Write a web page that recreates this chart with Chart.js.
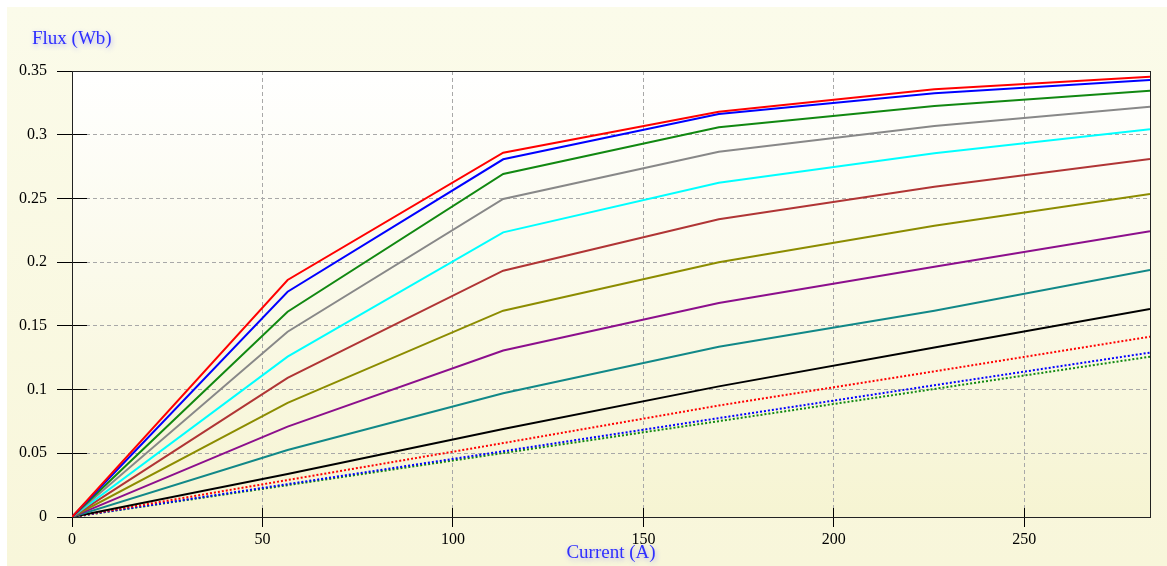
<!DOCTYPE html>
<html>
<head>
<meta charset="utf-8">
<script src="https://cdn.jsdelivr.net/npm/chart.js@4/dist/chart.umd.min.js"></script>
<style>
  html, body { margin: 0; padding: 0; background: #ffffff; }
  canvas { display: block; }
</style>
</head>
<body>
<canvas id="chart" width="1167" height="566"></canvas>
<script>
// Magnetising current (A) at which each flux curve is sampled
const current = [0, 56.6, 113.2, 169.8, 226.4, 283];

// Flux linkage curves (Wb), solid family
const fluxRed    = [0, 0.186, 0.2859, 0.318, 0.3356, 0.3455];
const fluxBlue   = [0, 0.1768, 0.2807, 0.3163, 0.3325, 0.3429];
const fluxGreen  = [0, 0.1611, 0.2692, 0.3058, 0.3225, 0.3345];
const fluxGray   = [0, 0.1454, 0.2496, 0.2867, 0.3068, 0.322];
const fluxCyan   = [0, 0.1258, 0.2234, 0.2623, 0.2854, 0.3042];
const fluxBrown  = [0, 0.1091, 0.1933, 0.2336, 0.2592, 0.2809];
const fluxOlive  = [0, 0.0895, 0.1619, 0.1999, 0.2286, 0.2535];
const fluxPurple = [0, 0.0709, 0.1307, 0.168, 0.1964, 0.2242];
const fluxTeal   = [0, 0.0526, 0.0971, 0.1336, 0.1619, 0.1938];
const fluxBlack  = [0, 0.0337, 0.069, 0.1025, 0.133, 0.1632];

// Flux linkage curves (Wb), dotted family
const fluxRedDot   = [0, 0.029, 0.058, 0.0875, 0.1143, 0.1415];
const fluxBlueDot  = [0, 0.0258, 0.0516, 0.0776, 0.1034, 0.129];
const fluxGreenDot = [0, 0.025, 0.0502, 0.0752, 0.1005, 0.1258];

// Axis tick values
const xTicks = [0, 50, 100, 150, 200, 250];
const yTicks = [0, 0.05, 0.1, 0.15, 0.2, 0.25, 0.3, 0.35];

const xTitle = 'Current (A)';
const yTitle = 'Flux (Wb)';

const solidSeries = [
  ['Red', fluxRed, '#ff0000'],
  ['Blue', fluxBlue, '#0000ff'],
  ['Green', fluxGreen, '#118811'],
  ['Gray', fluxGray, '#888888'],
  ['Cyan', fluxCyan, '#00ffff'],
  ['Brown', fluxBrown, '#b03535'],
  ['Olive', fluxOlive, '#8c8c00'],
  ['Purple', fluxPurple, '#8c0f8c'],
  ['Teal', fluxTeal, '#118888'],
  ['Black', fluxBlack, '#000000']
];
const dottedSeries = [
  ['Red dotted', fluxRedDot, '#ff0000'],
  ['Blue dotted', fluxBlueDot, '#0000ff'],
  ['Green dotted', fluxGreenDot, '#118811']
];

function toPoints(values) {
  return values.map((v, i) => ({ x: current[i], y: v }));
}

const datasets = [
  ...solidSeries.map(([label, values, color]) => ({
    label, data: toPoints(values), borderColor: color, borderWidth: 2,
    pointRadius: 0, tension: 0, fill: false
  })),
  ...dottedSeries.map(([label, values, color]) => ({
    label, data: toPoints(values), borderColor: color, borderWidth: 2,
    borderDash: [2, 2], pointRadius: 0, tension: 0, fill: false
  }))
];

// Same half-pixel snapping that Chart.js uses for 1px grid lines
const snap = p => Math.round(p - 0.5) + 0.5;

// Panel and plot-area backgrounds, frame and inner tick marks
const decorations = {
  id: 'decorations',
  beforeDraw(chart) {
    const { ctx, chartArea: a, width, height } = chart;
    ctx.save();
    ctx.fillStyle = '#ffffff';
    ctx.fillRect(0, 0, width, height);
    const pg = ctx.createLinearGradient(0, 7, 0, height);
    pg.addColorStop(0, '#fbfbea');
    pg.addColorStop(1, '#f8f6da');
    ctx.fillStyle = pg;
    ctx.fillRect(7, 7, width - 7, height - 7);
    const ag = ctx.createLinearGradient(0, a.top, 0, a.bottom);
    ag.addColorStop(0, '#ffffff');
    ag.addColorStop(1, '#f6f4d2');
    ctx.fillStyle = ag;
    ctx.fillRect(a.left, a.top, a.right - a.left, a.bottom - a.top);
    ctx.restore();
  },
  beforeDatasetsDraw(chart) {
    const { ctx, chartArea: a, scales } = chart;
    ctx.save();
    ctx.strokeStyle = '#000000';
    ctx.lineWidth = 1;
    ctx.beginPath();
    yTicks.forEach(v => {
      const y = snap(scales.y.getPixelForValue(v));
      ctx.moveTo(a.left, y); ctx.lineTo(a.left + 15, y);
    });
    xTicks.forEach(v => {
      const x = snap(scales.x.getPixelForValue(v));
      ctx.moveTo(x, a.bottom); ctx.lineTo(x, a.bottom - 9);
    });
    ctx.stroke();
    ctx.strokeStyle = '#222222';
    const l = snap(a.left), t = snap(a.top), r = snap(a.right), b = snap(a.bottom);
    ctx.strokeRect(l, t, r - l, b - t);
    ctx.restore();
  },
  afterDraw(chart) {
    const { ctx } = chart;
    ctx.save();
    ctx.font = '19px "Liberation Serif"';
    ctx.fillStyle = '#2f2fff';
    ctx.shadowColor = 'rgba(90, 90, 255, 0.45)';
    ctx.shadowBlur = 5;
    ctx.shadowOffsetX = 1;
    ctx.shadowOffsetY = 2;
    ctx.textBaseline = 'alphabetic';
    ctx.textAlign = 'left';
    ctx.fillText(yTitle, 32, 44);
    ctx.textAlign = 'center';
    ctx.fillText(xTitle, 611, 558);
    ctx.restore();
  }
};

const tickFont = { family: 'Liberation Serif', size: 16 };

new Chart(document.getElementById('chart'), {
  type: 'line',
  data: { datasets },
  options: {
    responsive: false,
    devicePixelRatio: 1,
    animation: false,
    layout: { padding: { top: 71, right: 17, left: 0, bottom: 0 } },
    plugins: { legend: { display: false }, tooltip: { enabled: false } },
    scales: {
      x: {
        type: 'linear',
        min: 0,
        max: 283,
        afterBuildTicks(scale) { scale.ticks = xTicks.map(v => ({ value: v })); },
        afterFit(scale) { scale.height = 49; },
        ticks: { font: tickFont, color: '#000000', padding: 3, maxRotation: 0,
                 callback: v => String(v) },
        grid: { color: '#a8a8a8', tickColor: '#000000', tickLength: 10, lineWidth: 1 },
        border: { display: false, dash: [4, 3] }
      },
      y: {
        type: 'linear',
        min: 0,
        max: 0.35,
        afterBuildTicks(scale) { scale.ticks = yTicks.map(v => ({ value: v })); },
        afterFit(scale) { scale.width = 72; },
        ticks: { font: tickFont, color: '#000000', padding: 10,
                 callback: v => String(+v.toFixed(2)) },
        grid: { color: '#a8a8a8', tickColor: '#000000', tickLength: 15, lineWidth: 1 },
        border: { display: false, dash: [4, 3] }
      }
    }
  },
  plugins: [decorations]
});
</script>
</body>
</html>
